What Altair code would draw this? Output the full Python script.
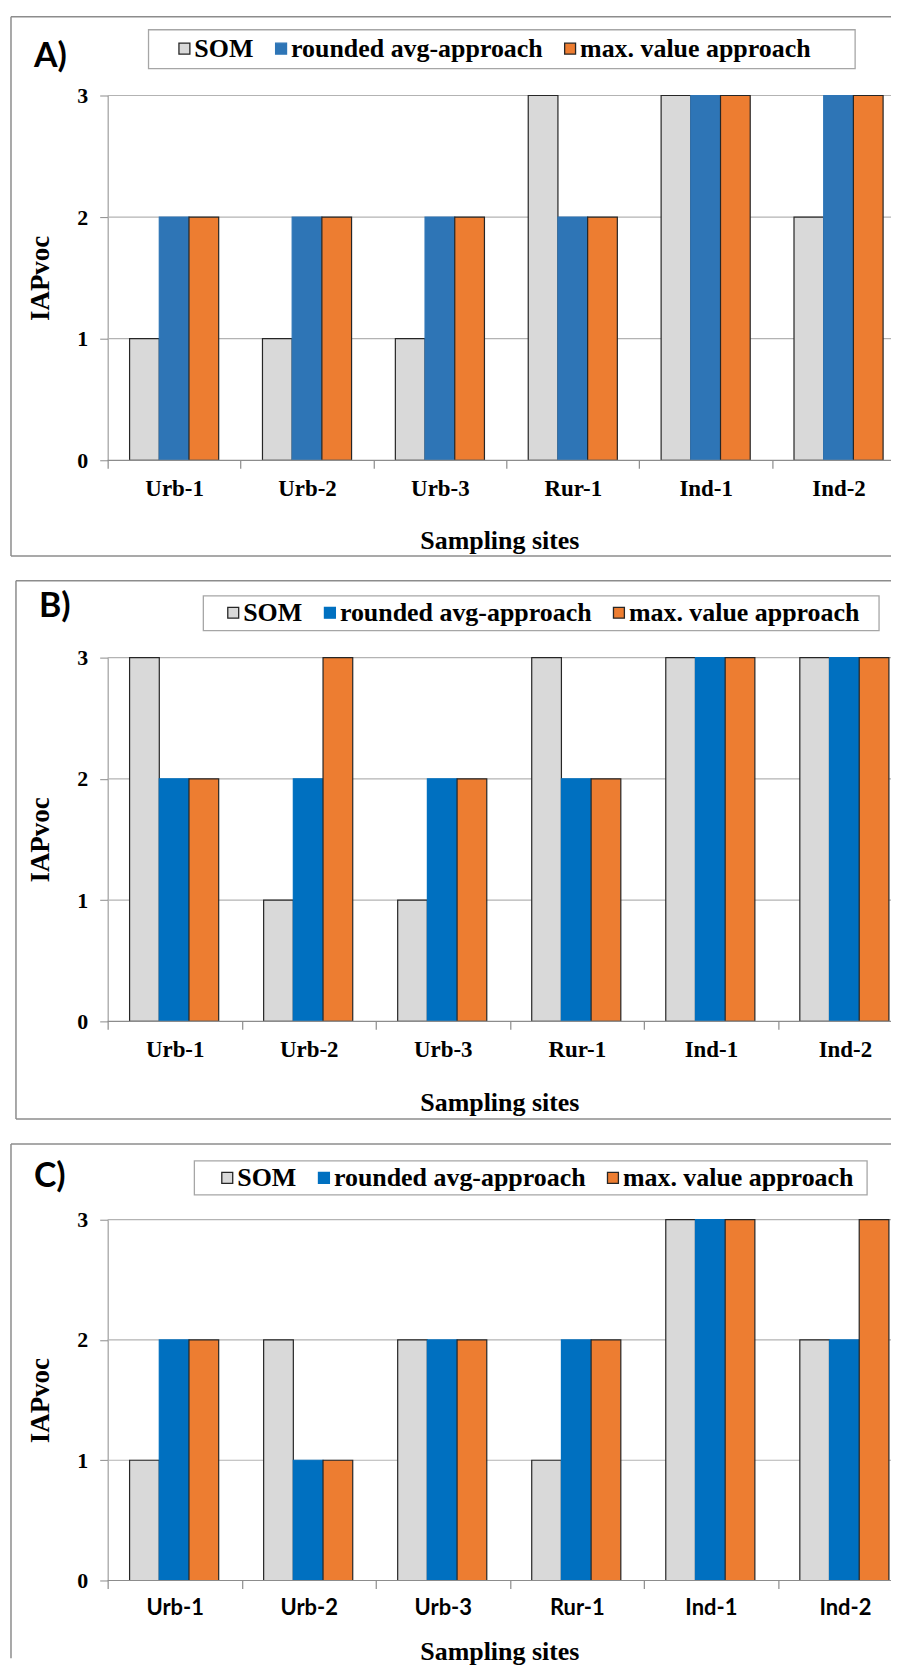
import altair as alt
import pandas as pd

SITES = ["Urb-1", "Urb-2", "Urb-3", "Rur-1", "Ind-1", "Ind-2"]
SERIES = ["SOM", "rounded avg-approach", "max. value approach"]
Y_TICKS = [0, 1, 2, 3]
GRID_VALUES = [1, 2, 3]

A_SOM = [1, 1, 1, 3, 3, 2]
A_AVG = [2, 2, 2, 2, 3, 3]
A_MAX = [2, 2, 2, 2, 3, 3]

B_SOM = [3, 1, 1, 3, 3, 3]
B_AVG = [2, 2, 2, 2, 3, 3]
B_MAX = [2, 3, 2, 2, 3, 3]

C_SOM = [1, 2, 2, 1, 3, 2]
C_AVG = [2, 1, 2, 2, 3, 2]
C_MAX = [2, 1, 2, 2, 3, 3]

GREY = "#d9d9d9"
ORANGE = "#ed7d31"
BLUE_A = "#2e75b6"
BLUE_BC = "#0070c0"
OUTLINE = "#262626"
AXIS_GREY = "#8c8c8c"
GRID_GREY = "#b3b3b3"
FRAME_GREY = "#8c8c8c"

SERIF = "Liberation Serif"
SANS = "Lato"


def build_df(som, avg, mx):
    rows = []
    for s, vals in zip(SERIES, [som, avg, mx]):
        for site, v in zip(SITES, vals):
            rows.append({"site": site, "series": s, "value": v})
    return pd.DataFrame(rows)


def one_point():
    return pd.DataFrame({"k": [0]})


def band_params(w, step, gap_frac=0.165, bar_frac=0.2235):
    """Band scale settings so that categories are `step` apart while the
    visible plot is only `w` wide (the last category runs past the picture)."""
    n = len(SITES)
    pad_inner = n - w / step
    bw = step * (1 - pad_inner)
    bar = step * bar_frac
    gap = step * gap_frac
    off_outer = (bw / bar - 3) / 2
    off_align = gap / (bw - 3 * bar)
    return pad_inner, bw, off_outer, off_align


def panel(letter, som, avg, mx, blue, w, h, step, frame, box, leg, let_xy,
          xfont, xsize, xpad, title_pad, bottom_line=True):
    df = build_df(som, avg, mx)
    pad_inner, bw, off_outer, off_align = band_params(w, step)
    fx, fy, fy2 = frame

    layers = []
    # panel frame (left, top and bottom edges; the right edge lies outside the picture)
    layers.append(alt.Chart(one_point()).mark_rule(color=FRAME_GREY, strokeWidth=1.5).encode(
        x=alt.value(fx), y=alt.value(fy), y2=alt.value(fy2)))
    layers.append(alt.Chart(one_point()).mark_rule(color=FRAME_GREY, strokeWidth=1.5).encode(
        x=alt.value(fx), x2=alt.value(w), y=alt.value(fy)))
    if bottom_line:
        layers.append(alt.Chart(one_point()).mark_rule(color=FRAME_GREY, strokeWidth=1.5).encode(
            x=alt.value(fx), x2=alt.value(w), y=alt.value(fy2)))

    bx, by, bx2, by2 = box
    layers.append(alt.Chart(one_point()).mark_rect(
        fill="white", stroke="#a6a6a6", strokeWidth=1.3
    ).encode(x=alt.value(bx), x2=alt.value(bx2), y=alt.value(by), y2=alt.value(by2)))

    layers.append(alt.Chart(one_point()).mark_text(
        text=letter, font=SANS, fontWeight="bold", fontSize=34,
        align="left", baseline="alphabetic", color="black"
    ).encode(x=alt.value(let_xy[0]), y=alt.value(let_xy[1])))

    # horizontal gridlines across the visible plot width
    layers.append(alt.Chart(pd.DataFrame({"g": GRID_VALUES})).mark_rule(
        color=GRID_GREY, strokeWidth=1.2
    ).encode(y=alt.Y("g:Q"), x=alt.value(0), x2=alt.value(w)))

    legend = alt.Legend(
        orient="none", legendX=leg[0], legendY=leg[1], direction="horizontal",
        title=None, symbolType="square", symbolSize=120, symbolStrokeWidth=1.3,
        labelFont=SERIF, labelFontWeight="bold", labelFontSize=26,
        labelColor="black", labelOffset=alt.ExprRef(expr="-3"), columnPadding=14,
        padding=0, labelLimit=400,
    )

    bars = alt.Chart(df).mark_bar(strokeWidth=1.2).encode(
        x=alt.X(
            "site:N", sort=SITES,
            scale=alt.Scale(paddingInner=pad_inner, paddingOuter=0, align=0),
            axis=alt.Axis(
                title="Sampling sites", labelAngle=0, domain=False,
                tickOffset=-bw / 2, labelOffset=step / 2,
                tickSize=8, tickColor=AXIS_GREY, tickWidth=1.2,
                grid=False, labelFont=xfont, labelFontSize=xsize,
                labelFontWeight="bold", labelColor="black", labelPadding=xpad,
                titleFont=SERIF, titleFontSize=26, titleFontWeight="bold",
                titleColor="black", titlePadding=title_pad,
            ),
        ),
        xOffset=alt.XOffset("series:N", sort=SERIES,
                            scale=alt.Scale(paddingInner=0, paddingOuter=off_outer,
                                            align=off_align)),
        y=alt.Y(
            "value:Q",
            scale=alt.Scale(domain=[0, 3], nice=False),
            axis=alt.Axis(
                values=Y_TICKS, format="d", title="IAPvoc",
                titleFont=SERIF, titleFontSize=27, titleFontWeight="bold",
                titleColor="black", titlePadding=22,
                labelFont=SERIF, labelFontSize=22, labelFontWeight="bold",
                labelColor="black", labelPadding=12,
                tickSize=8, tickColor=AXIS_GREY, domainColor=AXIS_GREY,
                grid=False,
            ),
        ),
        fill=alt.Fill("series:N", sort=SERIES,
                      scale=alt.Scale(domain=SERIES, range=[GREY, blue, ORANGE]),
                      legend=legend),
        stroke=alt.Stroke("series:N", sort=SERIES,
                          scale=alt.Scale(domain=SERIES, range=[OUTLINE, blue, OUTLINE]),
                          legend=legend),
    )
    layers.append(bars)

    # x baseline at value 0
    layers.append(alt.Chart(one_point()).mark_rule(color=AXIS_GREY, strokeWidth=1.2).encode(
        y=alt.datum(0), x=alt.value(0), x2=alt.value(w)))

    return alt.layer(*layers).properties(width=w, height=h)


pa = panel("A)", A_SOM, A_AVG, A_MAX, BLUE_A, 786, 366, 800 / 6,
           (-97, -79, 462), (41, -66, 750, -27), (64, -60), (-74, -29),
           SERIF, 23, 9, 28)
pb = panel("B)", B_SOM, B_AVG, B_MAX, BLUE_BC, 786, 365, 134.5,
           (-92, -77, 463), (96, -62, 774, -27), (113, -58), (-69, -41),
           SERIF, 23, 9, 28)
pc = panel("C)", C_SOM, C_AVG, C_MAX, BLUE_BC, 786, 362, 134.5,
           (-97, -76, 440), (87, -59, 762, -25), (107, -55), (-74, -33),
           SANS, 22, 9, 20, bottom_line=False)

chart = alt.vconcat(pa, pb, pc, spacing=21).resolve_scale(
    x="independent", y="independent", fill="independent", stroke="independent"
).resolve_legend(fill="independent", stroke="independent").properties(
    padding={"left": 1, "top": 4, "right": 0, "bottom": 0}
).configure_view(stroke="transparent").configure_legend(
    labelFont=SERIF, labelFontWeight="bold", labelFontSize=26, labelLimit=400,
    labelColor="black"
)

chart.save("out.html", embed_options={"renderer": "svg", "actions": False})
